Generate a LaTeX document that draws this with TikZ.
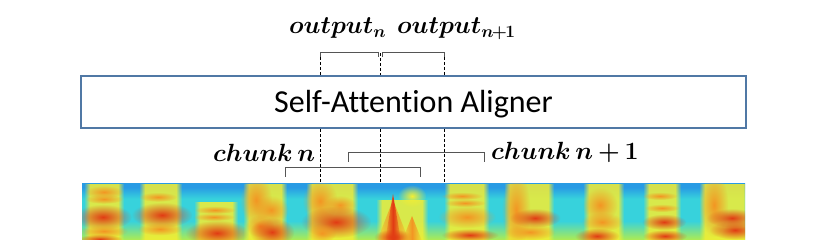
\documentclass[tikz,border=0pt]{standalone}
\usepackage[no-math]{fontspec}
\setmainfont[Ligatures=NoCommon]{Carlito}
\usepackage{amsmath}
\usetikzlibrary{fadings}
\definecolor{boxblue}{RGB}{80,120,165}
\definecolor{brkgray}{RGB}{85,85,85}
\definecolor{sblue}{RGB}{40,155,228}
\definecolor{scyan}{RGB}{55,210,220}
\definecolor{sgreen}{RGB}{175,236,80}
\definecolor{syel}{RGB}{245,238,50}
\definecolor{sorg}{RGB}{243,150,35}
\definecolor{sred}{RGB}{225,60,20}
\pgfdeclareverticalshading{specbg}{100bp}{color(0bp)=(sgreen); color(25bp)=(sgreen); color(42bp)=(scyan); color(62bp)=(scyan); color(72bp)=(sblue); color(100bp)=(sblue)}
\tikzfading[name=softblob, inner color=transparent!0, outer color=transparent!100]
\tikzfading[name=fadeL, left color=transparent!100, right color=transparent!0]
\tikzfading[name=fadeR, left color=transparent!0, right color=transparent!100]
\tikzfading[name=softcol, left color=transparent!100, right color=transparent!100, middle color=transparent!0]
\newcommand\specblob[5]{\fill[#1, path fading=softblob] (#2,#3) ellipse ({1.6*#4pt} and {1.6*#5pt});}
\newcommand\speccol[4]{%
  \fill[syel, opacity=0.85] (#1+6,#3) rectangle (#2-6,#4);
  \fill[syel, opacity=0.85, path fading=fadeL] (#1,#3) rectangle (#1+6,#4);
  \fill[syel, opacity=0.85, path fading=fadeR] (#2-6,#3) rectangle (#2,#4);}
\tikzset{
  brk/.style={draw=brkgray, line width=0.9pt},
  dashline/.style={draw=black, line width=0.7pt, dash pattern=on 3pt off 2pt},
  outlbl/.style={anchor=base west, inner sep=0pt, font=\fontsize{23}{28}\selectfont\boldmath},
  chlbl/.style={anchor=base west, inner sep=0pt, font=\fontsize{24}{28}\selectfont\boldmath},
}
\begin{document}
\begin{tikzpicture}[x=1pt, y=-1pt]
\useasboundingbox (0,0) rectangle (830,248);
% spectrogram
\begin{scope}
\clip (82,184) rectangle (745,240);
\path[shading=specbg] (82,184) rectangle (745,240);
% seg1
\speccol{84}{124}{184}{242}
\specblob{sorg}{104}{192}{12}{4}
\specblob{sorg}{104}{199}{12}{3}
\specblob{sred}{103}{217}{18}{8}
\specblob{sorg}{104}{231}{15}{4}
\specblob{sred}{100}{239}{14}{3}
% seg2
\speccol{139}{182}{184}{242}
\specblob{sorg}{158}{197}{12}{3}
\specblob{sred}{162}{215}{19}{8}
\specblob{sorg}{160}{229}{14}{4}
% seg3
\speccol{194}{238}{202}{242}
\specblob{sorg}{215}{210}{13}{2.5}
\specblob{sorg}{214}{217}{13}{2.5}
\specblob{sred}{217}{233}{20}{8}
% seg4
\speccol{243}{287}{184}{242}
\specblob{sorg}{256}{200}{10}{16}
\specblob{sorg}{271}{210}{11}{9}
\specblob{sorg}{260}{226}{9}{7}
\specblob{sred}{272}{232}{14}{9}
% seg5
\speccol{306}{358}{184}{242}
\specblob{sorg}{320}{201}{11}{14}
\specblob{sorg}{340}{205}{10}{6}
\specblob{sred}{336}{222}{22}{10}
\specblob{sorg}{322}{233}{9}{6}
% seg6
\speccol{376}{428}{200}{242}
\specblob{syel}{412}{196}{9}{7}
\fill[sorg, path fading=softcol] (377,241) -- (393,200) -- (409,241) -- cycle;
\fill[sred, path fading=softcol] (385,241) -- (393,194) -- (401,241) -- cycle;
\specblob{sred}{393}{237}{12}{5}
\fill[sorg, path fading=softcol] (402,241) -- (412,216) -- (422,241) -- cycle;
% seg7
\speccol{444}{489}{184}{242}
\specblob{sorg}{462}{196}{13}{2.5}
\specblob{sorg}{465}{203}{13}{2.5}
\specblob{sorg}{467}{217}{18}{7}
\specblob{sred}{470}{235}{18}{4}
% seg8
\speccol{504}{554}{184}{242}
\specblob{sorg}{516}{210}{9}{24}
\specblob{sred}{535}{218}{16}{6}
\specblob{sorg}{530}{232}{16}{5}
% seg9
\speccol{583}{624}{184}{242}
\specblob{sorg}{600}{205}{11}{11}
\specblob{sorg}{602}{222}{13}{6}
\specblob{sred}{597}{236}{14}{5}
% seg10
\speccol{643}{681}{184}{242}
\specblob{sorg}{660}{196}{11}{2.5}
\specblob{sorg}{662}{208}{11}{2.5}
\specblob{sred}{664}{222}{14}{5}
\specblob{sred}{665}{236}{14}{4}
% seg11
\speccol{699}{749}{184}{242}
\specblob{sorg}{714}{205}{9}{20}
\specblob{sred}{732}{218}{16}{6}
\specblob{sred}{735}{230}{16}{6}
\end{scope}
% aligner box
\node[draw=boxblue, line width=2pt, minimum width=665pt, minimum height=52pt, inner sep=0pt,
      text height=21pt, text depth=0pt, font=\fontsize{32}{38}\selectfont] (aligner) at (413.5,102) {Self-Attention Aligner};
% labels
\node[outlbl] (outn) at (289,34) {$output_n$};
\node[outlbl] (outn1) at (397,34) {$output_{n\mkern-1.5mu+\mkern-1.5mu1}$};
\node[chlbl] (chn) at (213,162) {$chunk\,n$};
\node[chlbl] (chn1) at (491,160) {$chunk\,n\mkern3mu{+}\mkern3mu1$};
% coordinates
\coordinate (oA) at (320,57);
\coordinate (oB) at (378,57);
\coordinate (oC) at (382,57);
\coordinate (oD) at (444,57);
\coordinate (oM) at (380,53);
\coordinate (sA) at (320,183);
\coordinate (sM) at (380,183);
\coordinate (sD) at (444,183);
\coordinate (cA) at (285,177);
\coordinate (cB) at (420,177);
\coordinate (cC) at (348,162);
\coordinate (cD) at (484,162);
% output brackets
\draw[brk] (oA) -- ++(0,-5) -| (oB);
\draw[brk] (oC) -- ++(0,-5) -| (oD);
% chunk brackets
\draw[brk] (cA) -- ++(0,-10) -| (cB);
\draw[brk] (cC) -- ++(0,-10) -| (cD);
% dashed guides
\draw[dashline] (oA) -- (oA |- aligner.north);
\draw[dashline] (oM) -- (oM |- aligner.north);
\draw[dashline] (oD) -- (oD |- aligner.north);
\draw[dashline] (sA |- aligner.south) -- (sA);
\draw[dashline] (sM |- aligner.south) -- (sM);
\draw[dashline] (sD |- aligner.south) -- (sD);
\end{tikzpicture}
\end{document}
